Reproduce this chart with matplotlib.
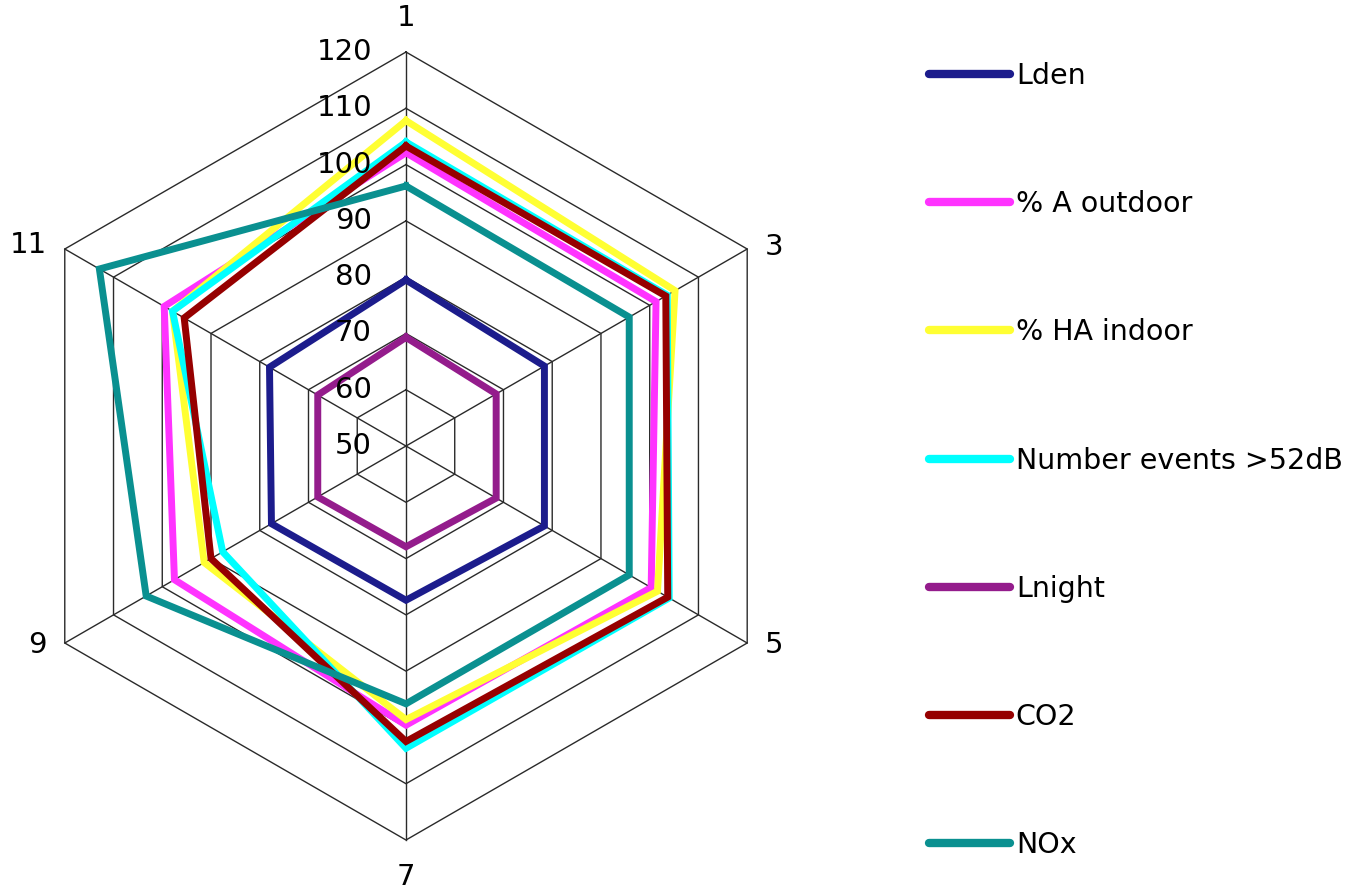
import numpy as np
import matplotlib
matplotlib.use('Agg')
import matplotlib.pyplot as plt

# spokes of the radar, clockwise from the top
axis_labels = ['1', '3', '5', '7', '9', '11']
ring_values = [50, 60, 70, 80, 90, 100, 110, 120]

# values, one per spoke
lden = [79.5, 78.4, 78.4, 77.4, 77.6, 78.0]
a_outdoor = [102.1, 101.3, 100.3, 99.6, 97.5, 99.6]
ha_indoor = [107.8, 105.2, 101.6, 98.6, 91.4, 97.9]
events_52 = [104.0, 103.6, 104.0, 103.7, 87.6, 97.9]
lnight = [69.3, 68.5, 68.5, 67.9, 68.1, 68.1]
co2 = [103.3, 103.3, 103.7, 102.5, 90.0, 95.5]
nox = [96.2, 95.8, 95.8, 95.8, 103.3, 112.9]

series_names = ['Lden', '% A outdoor', '% HA indoor', 'Number events >52dB',
                'Lnight', 'CO2', 'NOx']
series_vals = [lden, a_outdoor, ha_indoor, events_52, lnight, co2, nox]
colors = ['#1c1c8c', '#ff33ff', '#ffff33', '#00ffff', '#941c8c', '#960000', '#0a9090']

fig = plt.figure(figsize=(13.47, 8.89), dpi=100)
ax = fig.add_axes([0.0089, 0.0551, 0.585, 0.8864], projection='polar')
ax.set_theta_zero_location('N')
ax.set_theta_direction(-1)
ax.set_ylim(50, 120)
ax.grid(False)
ax.spines['polar'].set_visible(False)
ax.set_xticks([])
ax.set_yticks([])

n = len(axis_labels)
theta = np.arange(n) * 2 * np.pi / n
theta_closed = np.append(theta, theta[0])

# hexagonal grid
for rv in ring_values[1:]:
    ax.plot(theta_closed, [rv] * (n + 1), color='#2a2a2a', lw=1.0, zorder=1, clip_on=False)
for t in theta:
    ax.plot([t, t], [ring_values[0], ring_values[-1]], color='#2a2a2a', lw=1.0, zorder=1, clip_on=False)

# data lines
for name, vals, c in zip(series_names, series_vals, colors):
    ax.plot(theta_closed, vals + vals[:1], color=c, lw=5, label=name,
            solid_joinstyle='miter', zorder=3, clip_on=False)

# radial tick labels along the top spoke
for rv in ring_values:
    ax.annotate(str(rv), xy=(0, rv), xytext=(-34, 0), textcoords='offset pixels',
                ha='right', va='center', fontsize=21, zorder=5)

# spoke labels
offsets = [(0, 34, 'center', 'center'), (18, 2, 'left', 'center'), (18, -2, 'left', 'center'),
           (0, -37, 'center', 'center'), (-18, -2, 'right', 'center'), (-18, 4, 'right', 'center')]
for t, lab, (dx, dy, ha, va) in zip(theta, axis_labels, offsets):
    ax.annotate(lab, xy=(t, 120), xytext=(dx, dy), textcoords='offset pixels',
                ha=ha, va=va, fontsize=21)

leg = ax.legend(loc='upper left', bbox_to_anchor=(929 / 1347, 1 - 62 / 889),
                bbox_transform=fig.transFigure, frameon=False, fontsize=20.5,
                handlelength=2.85, handletextpad=0.2, labelspacing=3.52,
                borderpad=0, borderaxespad=0)
for h in leg.get_lines():
    h.set_linewidth(6)
    h.set_solid_capstyle('round')

fig.savefig('out.png', dpi=100)
